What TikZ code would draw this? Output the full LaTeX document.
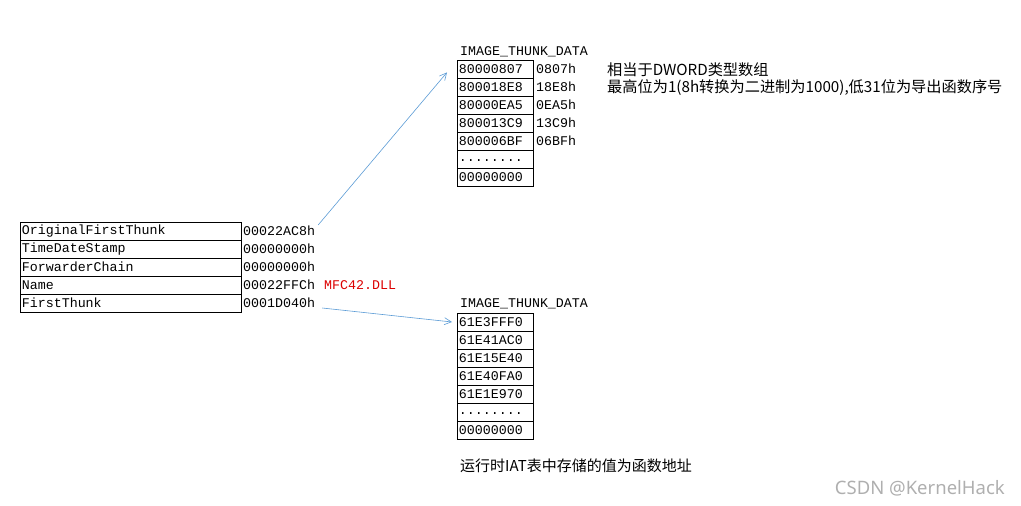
\documentclass[tikz,border=0pt]{standalone}
\usepackage{fontspec}
\setmonofont{Liberation Mono}
\setsansfont{Noto Sans}
\newfontfamily\cjk{Noto Sans CJK SC}
\usetikzlibrary{arrows.meta}
\definecolor{arrblue}{RGB}{91,155,213}
\definecolor{dllred}{RGB}{220,0,0}
\definecolor{wmgray}{RGB}{175,175,175}
\begin{document}
\begin{tikzpicture}[x=1pt,y=-1pt,
  mono/.style={font=\fontsize{13.3}{14}\ttfamily},
  cellL/.style={mono,draw,line width=0.8pt,minimum width=221pt,minimum height=18pt,inner sep=0pt,anchor=west,text width=218pt,align=left},
  cellT/.style={mono,draw,line width=0.8pt,minimum width=76pt,minimum height=18pt,inner sep=0pt,anchor=west,text width=73pt,align=left},
  val/.style={mono,anchor=west,inner sep=1pt},
  note/.style={font=\fontsize{15.2}{18}\cjk,anchor=west,inner sep=0pt,align=left},
  arr/.style={draw=arrblue,line width=0.6pt,-{Straight Barb[length=7pt,width=7pt]}}]
\useasboundingbox (0,0) rectangle (1021,506);
% left table
\node[cellL] (l1) at (20,231) {OriginalFirstThunk};
\node[cellL] (l2) at (20,249) {TimeDateStamp};
\node[cellL] (l3) at (20,267) {ForwarderChain};
\node[cellL] (l4) at (20,285) {Name};
\node[cellL] (l5) at (20,303) {FirstThunk};
\node[val] (v1) at (242,231) {00022AC8h};
\node[val] (v2) at (242,249) {00000000h};
\node[val] (v3) at (242,267) {00000000h};
\node[val] (v4) at (242,285) {00022FFCh};
\node[val] (v5) at (242,303) {0001D040h};
\node[val,text=dllred] (dll) at (323,285) {MFC42.DLL};
% top table
\node[val] (tt) at (459,52) {IMAGE\_THUNK\_DATA};
\node[cellT] (t1) at (457,69) {80000807};
\node[cellT] (t2) at (457,87) {800018E8};
\node[cellT] (t3) at (457,105) {80000EA5};
\node[cellT] (t4) at (457,123) {800013C9};
\node[cellT] (t5) at (457,141) {800006BF};
\node[cellT] (t6) at (457,159) {\raisebox{-4pt}{........}};
\node[cellT] (t7) at (457,177) {00000000};
\node[val] (o1) at (535,69) {0807h};
\node[val] (o2) at (535,87) {18E8h};
\node[val] (o3) at (535,105) {0EA5h};
\node[val] (o4) at (535,123) {13C9h};
\node[val] (o5) at (535,141) {06BFh};
\node[note] (n1) at (607,70) {相当于DWORD类型数组};
\node[note] (n2) at (607,88) {最高位为1(8h转换为二进制为1000),低31位为导出函数序号};
% bottom table
\node[val] (bt) at (459,304) {IMAGE\_THUNK\_DATA};
\node[cellT] (b1) at (457,322) {61E3FFF0};
\node[cellT] (b2) at (457,340) {61E41AC0};
\node[cellT] (b3) at (457,358) {61E15E40};
\node[cellT] (b4) at (457,376) {61E40FA0};
\node[cellT] (b5) at (457,394) {61E1E970};
\node[cellT] (b6) at (457,412) {\raisebox{-4pt}{........}};
\node[cellT] (b7) at (457,430) {00000000};
\node[note,font=\fontsize{15}{18}\cjk] (n3) at (460,466) {运行时IAT表中存储的值为函数地址};
% arrows
\draw[arr] ([xshift=2pt]v1.north east) -- ([xshift=-10pt,yshift=6pt]t1.south west);
\draw[arr] ([xshift=6pt,yshift=-5pt]v5.east) -- ([xshift=-5pt]b1.west);
% watermark
\node[font=\fontsize{18.5}{20}\sffamily,text=wmgray,anchor=east,inner sep=0pt] (wm) at (1005,488) {CSDN @KernelHack};
\end{tikzpicture}
\end{document}
